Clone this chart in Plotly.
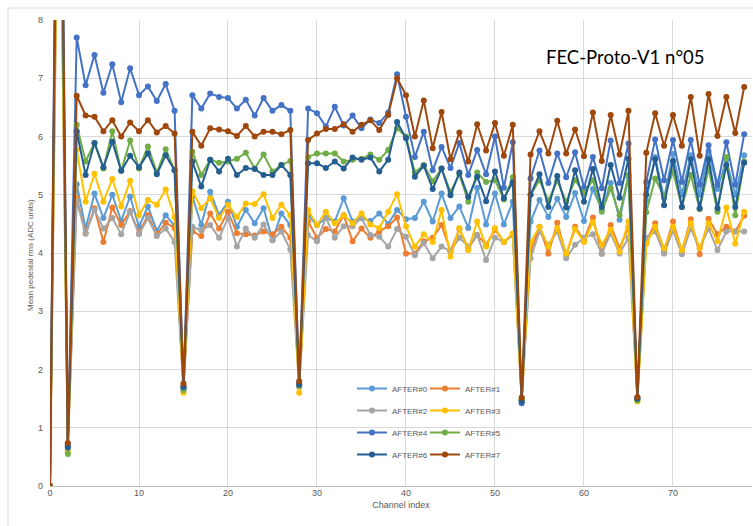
import plotly.graph_objects as go

channels = list(range(79))

after0 = [0, 14, 0.68,
          5.18, 4.42, 5.02, 4.60, 5.00, 4.55, 4.97, 4.45, 4.80, 4.38, 4.65, 4.47,
          1.68,
          4.97, 4.48, 5.05, 4.65, 4.88, 4.45, 4.74, 4.51, 4.77, 4.22, 4.68, 4.48,
          1.72,
          4.65, 4.48, 4.60, 4.54, 4.94, 4.54, 4.60, 4.55, 4.68, 4.50, 4.74, 4.58,
          4.60, 4.88, 4.54, 5.02, 4.60, 4.80, 4.43, 5.12, 4.49, 5.02, 4.49, 4.88,
          1.47,
          4.54, 4.91, 4.62, 4.93, 4.62, 5.03, 4.55, 5.10, 4.74, 5.20, 4.57, 5.31,
          1.50,
          4.90, 5.65, 4.95, 5.70, 5.00, 5.68, 5.00, 5.75, 5.10, 5.60, 5.00, 5.68]

after1 = [0, 13, 0.72,
          4.94, 4.34, 4.77, 4.19, 4.78, 4.48, 4.72, 4.34, 4.65, 4.32, 4.52, 4.43,
          1.72,
          4.37, 4.29, 4.68, 4.42, 4.71, 4.34, 4.32, 4.30, 4.37, 4.32, 4.45, 4.26,
          1.75,
          4.54, 4.26, 4.41, 4.37, 4.65, 4.20, 4.42, 4.26, 4.37, 4.46, 4.61, 3.99,
          3.99, 4.20, 4.26, 4.48, 4.03, 4.41, 4.08, 4.31, 4.14, 4.40, 4.19, 4.31,
          1.50,
          4.03, 4.45, 3.99, 4.52, 3.96, 4.45, 4.22, 4.61, 3.99, 4.48, 4.08, 4.45,
          1.52,
          4.20, 4.51, 4.03, 4.54, 4.03, 4.58, 3.98, 4.59, 4.32, 4.45, 4.37, 4.64]

after2 = [0, 12, 0.62,
          4.90, 4.33, 4.74, 4.42, 4.60, 4.32, 4.71, 4.32, 4.60, 4.29, 4.42, 4.19,
          1.65,
          4.45, 4.39, 4.48, 4.26, 4.60, 4.11, 4.42, 4.26, 4.49, 4.22, 4.37, 4.06,
          1.70,
          4.31, 4.20, 4.61, 4.26, 4.46, 4.46, 4.60, 4.31, 4.28, 4.11, 4.41, 4.28,
          3.96, 4.17, 3.91, 4.11, 4.03, 4.26, 4.11, 4.31, 3.88, 4.26, 4.19, 4.31,
          1.48,
          3.91, 4.37, 4.14, 4.37, 3.91, 4.14, 4.26, 4.32, 3.99, 4.34, 3.99, 4.26,
          1.50,
          4.26, 4.37, 3.99, 4.39, 3.98, 4.42, 4.08, 4.42, 4.05, 4.37, 4.37, 4.37]

after3 = [0, 12.5, 0.58,
          5.77, 4.88, 5.36, 4.88, 5.27, 4.80, 5.24, 4.65, 4.91, 4.83, 5.09, 4.62,
          1.60,
          5.06, 4.77, 4.94, 4.60, 4.83, 4.62, 4.85, 4.84, 5.01, 4.60, 4.83, 4.65,
          1.60,
          4.74, 4.48, 4.71, 4.51, 4.65, 4.51, 4.68, 4.49, 4.43, 4.71, 5.01, 4.46,
          4.11, 4.32, 4.19, 4.74, 3.94, 4.43, 4.05, 4.54, 4.11, 4.43, 4.19, 4.34,
          1.46,
          4.19, 4.45, 4.11, 4.43, 3.99, 4.41, 4.19, 4.53, 4.14, 4.40, 4.02, 4.54,
          1.45,
          4.16, 4.45, 4.08, 4.45, 4.05, 4.51, 4.08, 4.51, 4.20, 4.78, 4.16, 4.71]

after4 = [0, 16, 0.70,
          7.70, 6.88, 7.40, 6.75, 7.24, 6.59, 7.17, 6.71, 6.86, 6.61, 6.90, 6.44,
          1.70,
          6.71, 6.48, 6.74, 6.68, 6.66, 6.48, 6.63, 6.36, 6.66, 6.44, 6.54, 6.44,
          1.75,
          6.48, 6.40, 6.17, 6.51, 6.19, 6.36, 6.14, 6.29, 6.23, 6.41, 7.07, 6.34,
          5.65, 6.08, 5.42, 5.82, 5.46, 5.89, 5.34, 5.77, 5.35, 6.00, 5.12, 5.90,
          1.42,
          5.28, 5.76, 5.20, 5.71, 5.30, 5.73, 5.12, 5.65, 5.11, 5.93, 5.20, 5.88,
          1.50,
          5.22, 5.95, 5.25, 5.94, 5.22, 5.94, 5.17, 5.85, 5.17, 5.90, 5.17, 6.04]

after5 = [0, 13.5, 0.55,
          6.20, 5.57, 5.89, 5.45, 6.09, 5.41, 5.93, 5.45, 5.83, 5.38, 5.78, 5.42,
          1.65,
          5.74, 5.34, 5.60, 5.55, 5.57, 5.62, 5.72, 5.45, 5.69, 5.40, 5.51, 5.58,
          1.72,
          5.65, 5.71, 5.71, 5.71, 5.57, 5.60, 5.62, 5.69, 5.60, 5.77, 6.14, 6.00,
          5.38, 5.51, 5.23, 5.45, 5.05, 5.35, 4.88, 5.38, 5.22, 5.25, 4.92, 5.30,
          1.48,
          5.00, 5.25, 4.90, 5.24, 4.88, 5.25, 5.03, 5.25, 4.71, 5.11, 4.65, 5.34,
          1.47,
          4.70, 5.28, 4.97, 5.40, 4.79, 5.34, 4.75, 5.45, 4.71, 5.65, 4.65, 5.57]

after6 = [0, 14.5, 0.66,
          6.09, 5.34, 5.89, 5.47, 5.91, 5.41, 5.67, 5.47, 5.71, 5.35, 5.68, 5.42,
          1.70,
          5.57, 5.14, 5.60, 5.40, 5.62, 5.34, 5.46, 5.44, 5.34, 5.34, 5.51, 5.34,
          1.74,
          5.54, 5.54, 5.46, 5.57, 5.45, 5.64, 5.60, 5.64, 5.40, 5.60, 6.25, 5.97,
          5.31, 5.50, 5.10, 5.45, 4.99, 5.38, 4.96, 5.31, 4.89, 5.40, 4.94, 5.22,
          1.45,
          5.00, 5.35, 4.79, 5.32, 4.78, 5.42, 4.88, 5.44, 4.79, 5.51, 4.95, 5.62,
          1.50,
          5.00, 5.61, 4.82, 5.58, 4.79, 5.61, 4.77, 5.61, 4.77, 5.51, 4.79, 5.55]

after7 = [0, 15, 0.74,
          6.70, 6.36, 6.34, 6.09, 6.28, 6.00, 6.24, 6.09, 6.28, 6.07, 6.18, 6.05,
          1.76,
          6.08, 5.84, 6.14, 6.12, 6.09, 6.01, 6.18, 6.00, 6.08, 6.08, 6.04, 6.11,
          1.80,
          5.94, 6.05, 6.13, 6.13, 6.21, 6.08, 6.20, 6.28, 6.11, 6.37, 7.00, 6.71,
          6.00, 6.62, 5.80, 6.42, 5.61, 6.07, 5.57, 6.21, 5.76, 6.23, 5.67, 6.20,
          1.52,
          5.69, 6.09, 5.71, 6.27, 5.71, 6.12, 5.66, 6.41, 5.58, 6.37, 5.69, 6.44,
          1.53,
          5.72, 6.40, 5.84, 6.37, 5.84, 6.68, 5.67, 6.73, 6.01, 6.68, 6.06, 6.85]

series_names = ["AFTER#0", "AFTER#1", "AFTER#2", "AFTER#3",
                "AFTER#4", "AFTER#5", "AFTER#6", "AFTER#7"]
series_values = [after0, after1, after2, after3, after4, after5, after6, after7]
colors = ["#5B9BD5", "#ED7D31", "#A5A5A5", "#FFC000",
          "#4472C4", "#70AD47", "#255E91", "#9E480E"]

x_ticks = [0, 10, 20, 30, 40, 50, 60, 70]
y_ticks = [0, 1, 2, 3, 4, 5, 6, 7, 8]

fig = go.Figure()
for i, (name, vals, col) in enumerate(zip(series_names, series_values, colors)):
    fig.add_trace(go.Scatter(
        x=channels, y=vals, name=name, mode="lines+markers",
        line=dict(color=col, width=2),
        marker=dict(color=col, size=6),
        legend="legend" if i % 2 == 0 else "legend2",
        legendgroup=name,
        cliponaxis=True,
    ))

W, H = 753, 526
ml, mr, mt, mb = 50, 1, 20, 40
pw = W - ml - mr
ph = H - mt - mb

def px(xp):
    return (xp - ml) / pw

def py(yp):
    return (H - mb - yp) / ph

legend_common = dict(
    font=dict(family="Liberation Sans", size=8, color="#595959"),
    bgcolor="rgba(0,0,0,0)", yanchor="top", tracegroupgap=3,
    itemwidth=30,
)

fig.update_layout(
    width=W, height=H,
    margin=dict(l=ml, r=mr, t=mt, b=mb),
    paper_bgcolor="white", plot_bgcolor="white",
    font=dict(family="Liberation Sans", color="#595959"),
    xaxis=dict(
        range=[0, 78.88], tickvals=x_ticks, showgrid=True, gridcolor="#D9D9D9",
        gridwidth=1, zeroline=False, showline=False,
        tickfont=dict(size=9, color="#595959"),
        title=dict(text="Channel index", font=dict(size=9, color="#595959"), standoff=4),
        ticks="",
    ),
    yaxis=dict(
        range=[0, 8], tickvals=y_ticks, showgrid=True, gridcolor="#D9D9D9",
        gridwidth=1, zeroline=True, zerolinecolor="#BFBFBF", zerolinewidth=1,
        showline=False, tickfont=dict(size=9, color="#595959"), ticks="",
        ticklabelstandoff=6,
    ),
    legend=dict(x=px(352), y=py(374), xanchor="left", **legend_common),
    legend2=dict(x=px(425), y=py(374), xanchor="left", **legend_common),
    shapes=[dict(type="rect", xref="paper", yref="paper",
                 x0=px(8), x1=px(760), y0=py(540), y1=py(8),
                 line=dict(color="#D9D9D9", width=1), fillcolor="rgba(0,0,0,0)",
                 layer="below")],
    annotations=[
        dict(text="FEC-Proto-V1 n°05", x=px(625), y=py(57), xref="paper", yref="paper",
             xanchor="center", yanchor="middle",
             showarrow=False, font=dict(family="Lato", size=18.5, color="black")),
        dict(text="Mean pedestal rms (ADC units)", x=px(30), y=py(255), xref="paper",
             yref="paper", showarrow=False, textangle=-90,
             xanchor="center", yanchor="middle",
             font=dict(size=8, color="#595959")),
    ],
)

fig.write_html("out.html", config={"displayModeBar": False},
               post_script="document.body.style.margin='0px';")
